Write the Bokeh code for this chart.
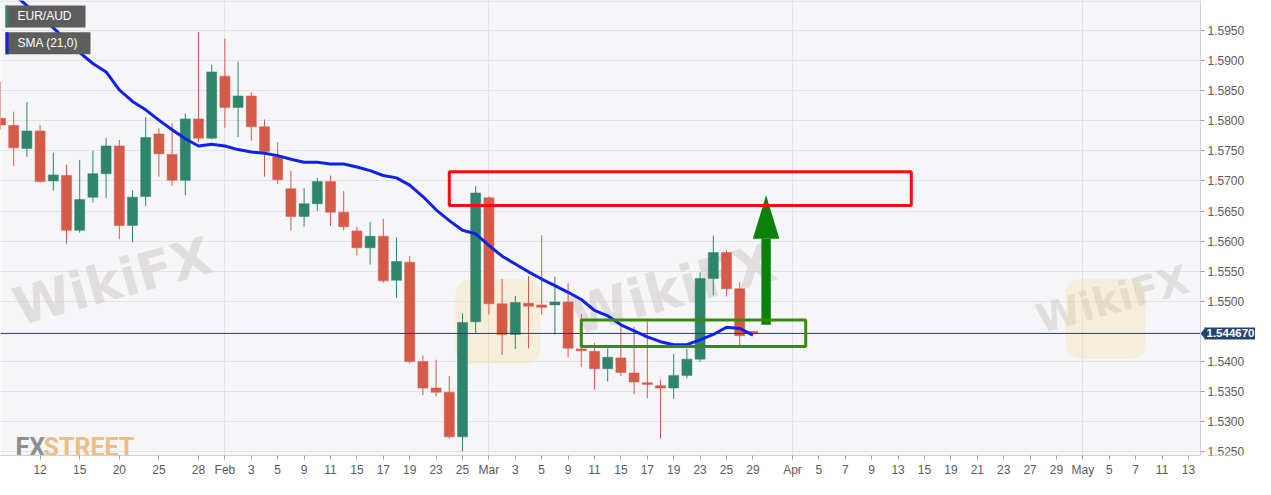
import pandas as pd
from bokeh.plotting import figure
from bokeh.models import FixedTicker, PrintfTickFormatter, Label, BoxAnnotation, ColumnDataSource
from bokeh.embed import file_html
from bokeh.resources import INLINE

# ---------------- data ----------------
symbol = "EUR/AUD"
indicator = "SMA (21,0)"
dates = [d.strftime("%Y-%m-%d") for d in pd.bdate_range("2021-01-07", "2021-03-29")]

opens = [1.5804, 1.5792, 1.5754, 1.5783, 1.5700, 1.5709, 1.5618, 1.5673, 1.5712, 1.5758,
         1.5626, 1.5674, 1.5778, 1.5744, 1.5701, 1.5803, 1.5771, 1.5874, 1.5822, 1.5841,
         1.5790, 1.5740, 1.5687, 1.5641, 1.5662, 1.5699, 1.5648, 1.5617, 1.5589, 1.5608,
         1.5535, 1.5565, 1.5400, 1.5356, 1.5349, 1.5275, 1.5466, 1.5672, 1.5496, 1.5445,
         1.5497, 1.5494, 1.5494, 1.5499, 1.5421, 1.5417, 1.5388, 1.5406, 1.5381, 1.5365,
         1.5360, 1.5356, 1.5377, 1.5404, 1.5538, 1.5581, 1.5521, 1.5450]
highs = [1.5865, 1.5815, 1.5831, 1.5793, 1.5747, 1.5727, 1.5735, 1.5750, 1.5771, 1.5768,
         1.5684, 1.5806, 1.5787, 1.5796, 1.5812, 1.5947, 1.5893, 1.5936, 1.5898, 1.5847,
         1.5802, 1.5764, 1.5717, 1.5688, 1.5705, 1.5709, 1.5683, 1.5624, 1.5632, 1.5637,
         1.5606, 1.5575, 1.5410, 1.5403, 1.5376, 1.5480, 1.5692, 1.5674, 1.5537, 1.5509,
         1.5542, 1.5610, 1.5541, 1.5530, 1.5479, 1.5431, 1.5422, 1.5458, 1.5458, 1.5466,
         1.5370, 1.5413, 1.5421, 1.5548, 1.5609, 1.5585, 1.5532, 1.5451]
lows = [1.5785, 1.5725, 1.5740, 1.5697, 1.5684, 1.5595, 1.5614, 1.5664, 1.5672, 1.5603,
        1.5598, 1.5658, 1.5707, 1.5692, 1.5676, 1.5764, 1.5769, 1.5788, 1.5773, 1.5767,
        1.5707, 1.5695, 1.5618, 1.5624, 1.5650, 1.5625, 1.5618, 1.5576, 1.5561, 1.5531,
        1.5506, 1.5397, 1.5344, 1.5342, 1.5272, 1.5251, 1.5447, 1.5478, 1.5411, 1.5421,
        1.5422, 1.5478, 1.5445, 1.5407, 1.5391, 1.5354, 1.5367, 1.5376, 1.5346, 1.5339,
        1.5272, 1.5338, 1.5372, 1.5399, 1.5510, 1.5508, 1.5426, 1.5445]
closes = [1.5793, 1.5755, 1.5783, 1.5699, 1.5710, 1.5618, 1.5669, 1.5712, 1.5758, 1.5626,
          1.5673, 1.5772, 1.5745, 1.5701, 1.5803, 1.5771, 1.5881, 1.5822, 1.5841, 1.5790,
          1.5749, 1.5702, 1.5641, 1.5662, 1.5699, 1.5648, 1.5624, 1.5589, 1.5608, 1.5534,
          1.5566, 1.5400, 1.5356, 1.5349, 1.5275, 1.5465, 1.5680, 1.5496, 1.5445, 1.5498,
          1.5492, 1.5490, 1.5499, 1.5422, 1.5418, 1.5388, 1.5407, 1.5382, 1.5366, 1.5362,
          1.5356, 1.5377, 1.5404, 1.5538, 1.5581, 1.5521, 1.5443, 1.54467]
sma21 = [1.6028, 1.6010, 1.5991, 1.5973, 1.5954, 1.5934, 1.5913, 1.5895, 1.5881, 1.5851,
         1.5832, 1.5818, 1.5801, 1.5785, 1.5770, 1.5758, 1.5761, 1.5758, 1.5752, 1.5748,
         1.5746, 1.5742, 1.5736, 1.5731, 1.5731, 1.5728, 1.5728, 1.5723, 1.5717, 1.5709,
         1.5705, 1.5693, 1.5674, 1.5652, 1.5634, 1.5618, 1.5612, 1.5593, 1.5575, 1.5562,
         1.5549, 1.5537, 1.5526, 1.5515, 1.5503, 1.5485, 1.5476, 1.5461, 1.5451, 1.5441,
         1.5433, 1.5428, 1.5428, 1.5436, 1.5445, 1.5457, 1.5455, 1.5444]
last_price = 1.544670
last_price_text = "1.544670"

# x-axis ticks (trading-day index) and their labels
tick_idx = [3, 6, 9, 12, 15, 17, 19, 21, 23, 25, 27, 29, 31, 33, 35, 37, 39, 41, 43, 45, 47,
            49, 51, 53, 55, 57, 60, 62, 64, 66, 68, 70, 72, 74, 76, 78, 80, 82, 84, 86, 88, 90]
tick_labels = ["12", "15", "20", "25", "28", "Feb", "3", "5", "9", "11", "15", "17", "19", "23",
               "25", "Mar", "3", "5", "9", "11", "15", "17", "19", "23", "25", "29", "Apr", "5",
               "7", "9", "13", "15", "19", "21", "23", "27", "29", "May", "5", "7", "11", "13"]
first_label = "Jan"
month_idx = [17, 37, 60, 82]
price_ticks = [1.5250, 1.5300, 1.5350, 1.5400, 1.5500, 1.5550, 1.5600, 1.5650, 1.5700,
               1.5750, 1.5800, 1.5850, 1.5900, 1.5950]

# drawn annotations
resistance_zone = dict(x0=34, x1=69, y0=1.5659, y1=1.5715)
support_zone = dict(x0=44, x1=61, y0=1.5425, y1=1.5469)
up_arrow = dict(x=58, y0=1.5461, head=1.5604, y1=1.5676)

# ---------------- layout helpers ----------------
W, H = 1255, 479
DAY_PX = 13.2
PX_PER_STEP = 30.24
PLOT_RIGHT = 1200


def rx(px):
    return px / DAY_PX


def ry(py):
    return 1.5950 - (py - 30) * 0.005 / PX_PER_STEP


GREEN = "#2e856b"
RED = "#d65a48"
BLUE = "#0f22e8"
NAVY = "#23446c"

p = figure(width=W, height=H, x_range=(rx(0), rx(W)), y_range=(ry(457), ry(0)),
           output_backend="svg", toolbar_location=None, y_axis_location="right",
           min_border_left=0, min_border_top=0, min_border_right=0, min_border_bottom=22,
           background_fill_color="#f6f6f8", border_fill_color="white",
           outline_line_color=None)

# axes: price axis pinned at the right edge of the chart area
p.yaxis.fixed_location = rx(PLOT_RIGHT)
p.yaxis.ticker = FixedTicker(ticks=price_ticks)
p.yaxis.formatter = PrintfTickFormatter(format="%.4f")
p.xaxis.ticker = FixedTicker(ticks=tick_idx)
p.xaxis.major_label_overrides = {t: lab for t, lab in zip(tick_idx, tick_labels)}
p.xaxis.bounds = (rx(0), rx(PLOT_RIGHT))
p.xgrid.ticker = FixedTicker(ticks=month_idx)
for g in (p.xgrid, p.ygrid):
    g.grid_line_color = "#e2e3e8"
    g.grid_line_width = 1
for ax in (p.xaxis, p.yaxis):
    ax.axis_line_color = "#cfd2da"
    ax.major_tick_line_color = "#9a9ca3"
    ax.major_tick_out = 4
    ax.major_tick_in = 0
    ax.minor_tick_line_color = None
    ax.major_label_text_font = "Liberation Sans"
    ax.major_label_text_font_size = "12px"
    ax.major_label_text_color = "#5b5b5b"
    ax.major_label_standoff = 3

# white panel to the right of the chart area (behind the price axis)
p.add_layout(BoxAnnotation(left=rx(PLOT_RIGHT), right=rx(W + 40), top=ry(-50), bottom=ry(520),
                           fill_color="white", fill_alpha=1, line_color=None, level="underlay"))
# thin top border of the chart area
p.add_layout(BoxAnnotation(left=rx(0), right=rx(PLOT_RIGHT), top=ry(0), bottom=ry(1),
                           fill_color="#d6d8e0", fill_alpha=1, line_color=None, level="underlay"))

# watermarks (behind the data)
for (cx, cy, fs) in [(112, 282, "52px"), (672, 290, "54px"), (1112, 300, "40px")]:
    p.add_layout(Label(x=rx(cx), y=ry(cy), text="WikiFX", angle=0.27, text_align="center",
                       text_baseline="middle", text_font="DejaVu Sans", text_font_style="bold",
                       text_font_size=fs, text_color="#cdc6c6", text_alpha=0.5,
                       level="underlay"))
for (l, r, t, b) in [(455, 540, 280, 365), (1065, 1145, 280, 360)]:
    p.add_layout(BoxAnnotation(left=rx(l), right=rx(r), top=ry(t), bottom=ry(b),
                               fill_color="#f3dc98", fill_alpha=0.3, line_color=None,
                               border_radius=14, level="underlay"))

p.add_layout(Label(x=rx(15), y=ry(449), text="FX", text_font="Roboto",
                   text_font_style="bold", text_font_size="25px", text_color="#8e8e90",
                   text_baseline="alphabetic", level="underlay"))
p.add_layout(Label(x=rx(43), y=ry(449), text="STREET", text_font="Roboto",
                   text_font_style="bold", text_font_size="25px", text_color="#efbd82",
                   text_baseline="alphabetic", level="underlay"))

p.add_layout(Label(x=rx(0.5), y=ry(470), text=first_label, text_align="left",
                   text_baseline="middle", text_font="Liberation Sans", text_font_size="12px",
                   text_color="#5b5b5b"))

# candles
idx = list(range(len(opens)))
src = ColumnDataSource(dict(
    x=idx, high=highs, low=lows,
    top=[max(o, c) for o, c in zip(opens, closes)],
    bottom=[min(o, c) for o, c in zip(opens, closes)],
    color=[GREEN if c >= o else RED for o, c in zip(opens, closes)],
    date=dates[:len(opens)],
))
p.segment(x0="x", y0="low", x1="x", y1="high", color="color", line_width=1, source=src)
p.vbar(x="x", width=0.76, top="top", bottom="bottom", fill_color="color",
       line_color="color", line_width=0.5, source=src)

# last price line across the chart area
p.segment(x0=[rx(0)], x1=[rx(PLOT_RIGHT)], y0=[last_price], y1=[last_price],
          line_color="#2b3d5b", line_width=1)

# SMA
p.line(idx, sma21, line_color=BLUE, line_width=3)

# zones
p.add_layout(BoxAnnotation(left=resistance_zone["x0"], right=resistance_zone["x1"],
                           bottom=resistance_zone["y0"], top=resistance_zone["y1"],
                           fill_color=None, fill_alpha=0, line_color="#ff0a0a",
                           line_alpha=1, line_width=3))
p.add_layout(BoxAnnotation(left=support_zone["x0"], right=support_zone["x1"],
                           bottom=support_zone["y0"], top=support_zone["y1"],
                           fill_color=None, fill_alpha=0, line_color="#3b8a0e",
                           line_alpha=1, line_width=3))

# arrow
shaft_hw = rx(4.7)
head_hw = rx(13.3)
ax_ = up_arrow["x"]
p.quad(left=[ax_ - shaft_hw], right=[ax_ + shaft_hw], bottom=[up_arrow["y0"]],
       top=[up_arrow["head"]], fill_color="#0b800b", line_color=None)
p.patch([ax_ - head_hw, ax_ + head_hw, ax_], [up_arrow["head"], up_arrow["head"], up_arrow["y1"]],
        fill_color="#0b800b", line_color=None)

# price tag next to the price axis
p.patch([rx(PLOT_RIGHT), rx(PLOT_RIGHT + 5), rx(PLOT_RIGHT + 5)],
        [last_price, last_price + 0.0010, last_price - 0.0010], fill_color=NAVY, line_color=None)
p.add_layout(Label(x=rx(PLOT_RIGHT + 4), y=last_price, text=last_price_text, text_align="left",
                   text_baseline="middle", text_font="Liberation Sans", text_font_style="bold",
                   text_font_size="11.5px", text_color="white", background_fill_color=NAVY,
                   padding=2))

# legend boxes top-left
legend = [(symbol, GREEN, 5, 85, 5, 27), (indicator, BLUE, 5, 90, 32, 54)]
for text, strip, l, r, t, b in legend:
    p.add_layout(BoxAnnotation(left=rx(l), right=rx(r), top=ry(t), bottom=ry(b),
                               fill_color="#5d5d5d", fill_alpha=1, line_color=None))
    p.add_layout(BoxAnnotation(left=rx(l), right=rx(l + 3), top=ry(t), bottom=ry(b),
                               fill_color=strip, fill_alpha=1, line_color=None))
    p.add_layout(Label(x=rx(l + 12), y=ry((t + b) / 2), text=text, text_align="left",
                       text_baseline="middle", text_font="Liberation Sans",
                       text_font_size="12px", text_color="white"))

open("out.html", "w").write(file_html(p, INLINE))
